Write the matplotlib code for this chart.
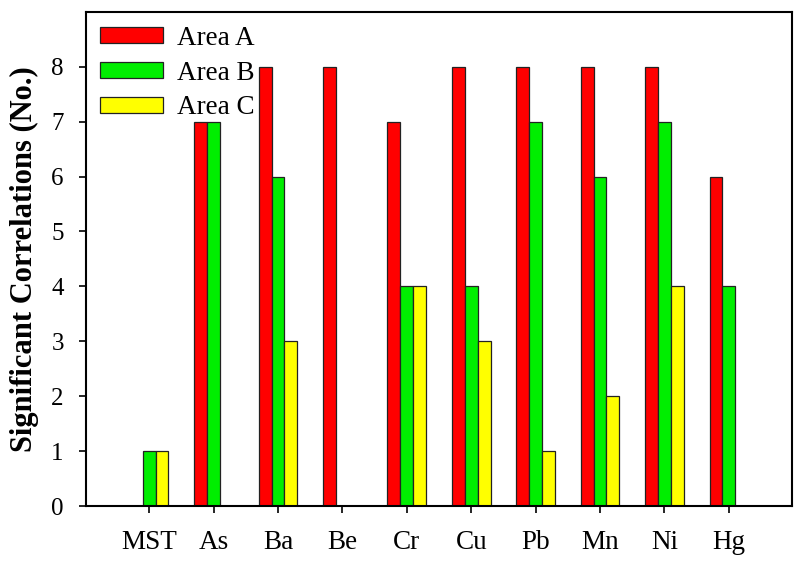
"""
Significant correlations per element for three areas: grouped bar chart.
"""
import numpy as np
import matplotlib
matplotlib.use("Agg")
import matplotlib.pyplot as plt

plt.rcParams["font.family"] = ["Liberation Serif", "DejaVu Serif"]

elements = ["MST", "As", "Ba", "Be", "Cr", "Cu", "Pb", "Mn", "Ni", "Hg"]
area_a = [0, 7, 8, 8, 7, 8, 8, 8, 8, 6]
area_b = [1, 7, 6, 0, 4, 4, 7, 6, 7, 4]
area_c = [1, 0, 3, 0, 4, 3, 1, 2, 4, 0]
series = [("Area A", area_a, "#ff0000"),
          ("Area B", area_b, "#00ee00"),
          ("Area C", area_c, "#ffff00")]

fig = plt.figure(figsize=(8, 5.66), dpi=100)
ax = fig.add_axes([0.1075, 0.106, 0.8825, 0.873])

x = np.arange(len(elements))
w = 0.2
for k, (name, vals, col) in enumerate(series):
    ax.bar(x + (k - 1) * w, vals, width=w, color=col, edgecolor="#222222",
           linewidth=0.9, label=name)

ax.set_xlim(-0.98, 9.98)
ax.set_ylim(0, 9)
ax.set_yticks(range(0, 9))
ax.set_xticks(x)
ax.set_xticklabels(elements)
ax.tick_params(direction="out", length=5, width=1.2)
ax.tick_params(axis="y", labelsize=18, pad=11)
ax.tick_params(axis="x", labelsize=19.5, pad=12)
for s in ax.spines.values():
    s.set_linewidth(1.5)
ax.set_ylabel("Significant Correlations (No.)", fontsize=22,
              fontweight="bold", labelpad=9)

ax.legend(loc="upper left", frameon=False, fontsize=19.5, handlelength=2.33,
          handleheight=0.52, labelspacing=0.36, handletextpad=0.52,
          borderaxespad=0.12, bbox_to_anchor=(0.0, 1.0))

fig.savefig("out.png", dpi=100)
